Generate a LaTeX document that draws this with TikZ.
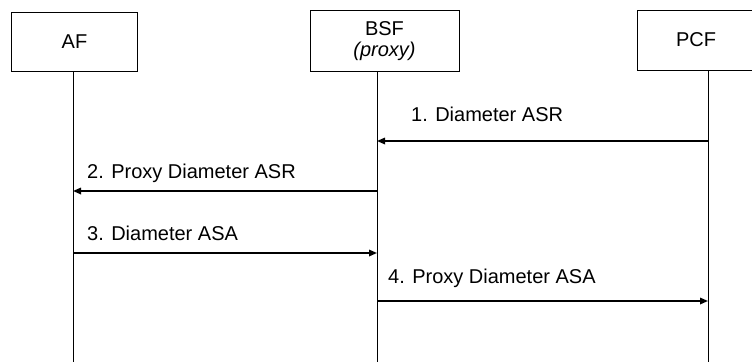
\documentclass[tikz,border=0pt]{standalone}
\usepackage{fontspec}
\setmainfont{Liberation Sans}
\usetikzlibrary{arrows.meta}
\begin{document}
\begin{tikzpicture}[x=1pt,y=-1pt,
  entity/.style={draw=black,line width=1pt,inner sep=0pt,anchor=north west,font=\fontsize{20}{22}\selectfont,align=center},
  lifeline/.style={draw=black,line width=1pt},
  msg/.style={draw=black,line width=1.6pt,-{Triangle[length=8pt,width=6.5pt]},shorten >=0pt},
  msglabel/.style={anchor=base west,inner sep=0pt,font=\fontsize{20}{22}\selectfont}]
\useasboundingbox (0,0) rectangle (752,362);
\clip (0,0) rectangle (752,362);
\node[entity,minimum width=126pt,minimum height=59pt] (af) at (11,12) {AF};
\node[entity,minimum width=149pt,minimum height=61pt] (bsf) at (309.5,10) {BSF\\[-1pt]\textit{(proxy)}};
\node[entity,minimum width=117pt,minimum height=60pt] (pcf) at (637,9.5) {PCF};
\coordinate (afx) at (73,362);
\coordinate (bsfx) at (377,362);
\coordinate (pcfx) at (708,362);
\draw[lifeline] (af.south -| afx) -- (afx);
\draw[lifeline] (bsf.south -| bsfx) -- (bsfx);
\draw[lifeline] (pcf.south -| pcfx) -- (pcfx);
\coordinate (m1s) at (708,141); \coordinate (m1e) at (377,141);
\coordinate (m2s) at (377,191); \coordinate (m2e) at (73,191);
\coordinate (m3s) at (73,253); \coordinate (m3e) at (377,253);
\coordinate (m4s) at (377,301); \coordinate (m4e) at (708,301);
\draw[msg] (m1s) -- (m1e);
\draw[msg] (m2s) -- (m2e);
\draw[msg] (m3s) -- (m3e);
\draw[msg] (m4s) -- (m4e);
\node[msglabel] (l1) at (411,121) {1. Diameter ASR};
\node[msglabel] (l2) at (87,178) {2. Proxy Diameter ASR};
\node[msglabel] (l3) at (87,240) {3. Diameter ASA};
\node[msglabel] (l4) at (388,283) {4. Proxy Diameter ASA};
\end{tikzpicture}
\end{document}
